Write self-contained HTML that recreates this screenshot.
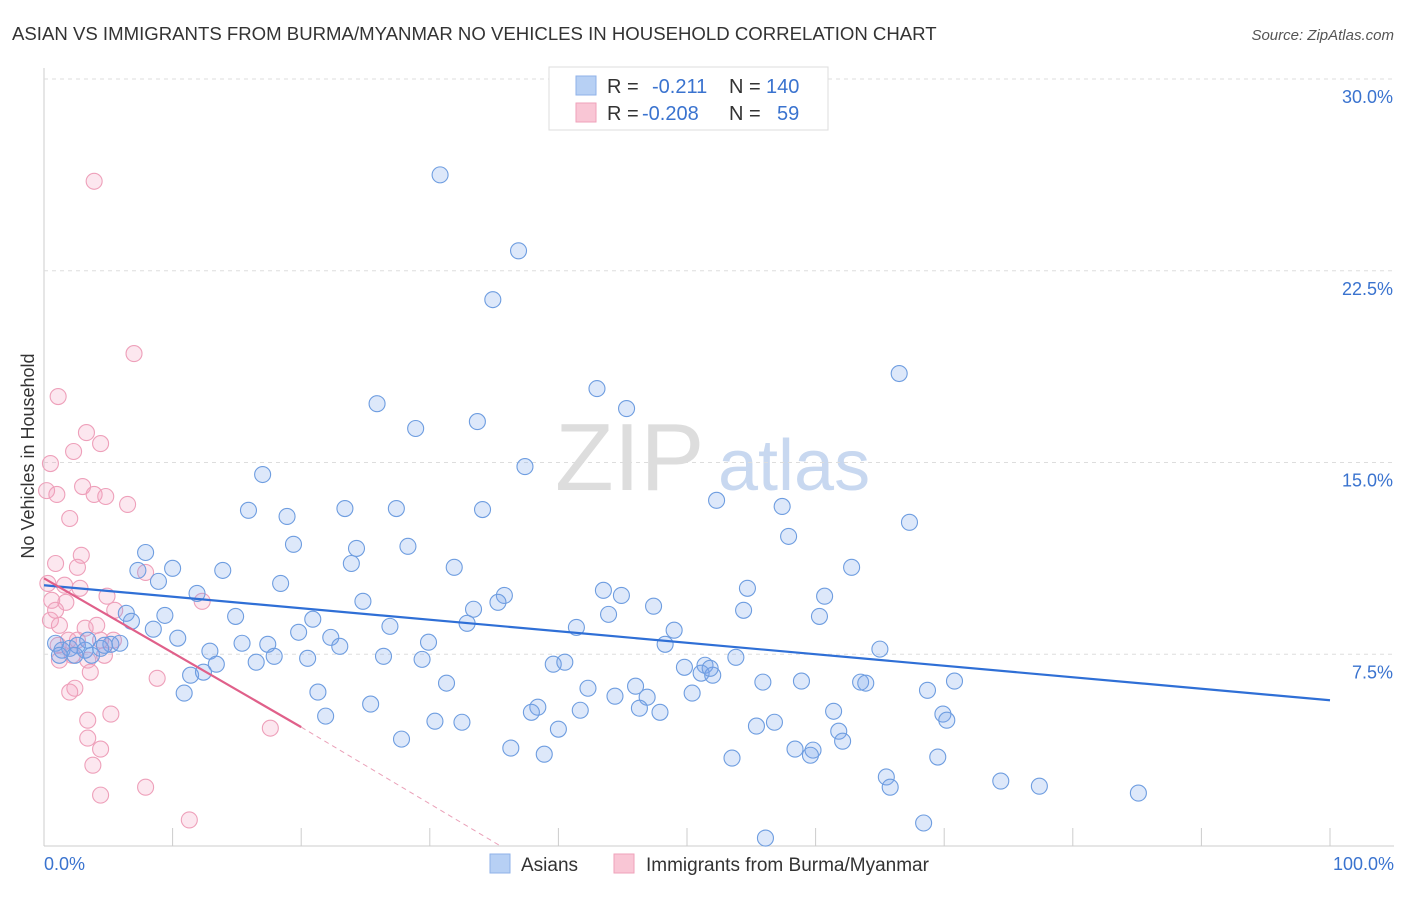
<!DOCTYPE html>
<html><head><meta charset="utf-8"><style>
body{margin:0;background:#fff;font-family:"Liberation Sans",sans-serif}
svg text{font-family:"Liberation Sans",sans-serif}
</style></head><body>
<svg id="chart" width="1406" height="892" xmlns="http://www.w3.org/2000/svg">
<text x="12" y="40" font-size="18.6" fill="#333">ASIAN VS IMMIGRANTS FROM BURMA/MYANMAR NO VEHICLES IN HOUSEHOLD CORRELATION CHART</text>
<text x="1394" y="40" font-size="15" fill="#555" font-style="italic" text-anchor="end">Source: ZipAtlas.com</text>
<text x="555" y="490" font-size="96" fill="#ddd" font-family="Liberation Serif">ZIP</text>
<text x="718" y="490" font-size="72" fill="#c8d8f0">atlas</text>
<text transform="translate(34,456) rotate(-90)" font-size="18" fill="#333" text-anchor="middle">No Vehicles in Household</text>
<g id="grid"></g><g id="ticks"></g><g id="pts"></g><g id="lines"></g>
<g>
<rect x="549" y="67" width="279" height="63" fill="#fff" stroke="#ddd"/>
<rect x="576" y="76" width="20" height="19" fill="#b7d0f4" stroke="#8fb2e8"/>
<rect x="576" y="103" width="20" height="19" fill="#f9c6d5" stroke="#efa2ba"/>
<text x="607" y="93" font-size="20" fill="#333">R = </text><text x="652" y="93" font-size="20" fill="#3a73cf">-0.211</text>
<text x="729" y="93" font-size="20" fill="#333">N = </text><text x="766" y="93" font-size="20" fill="#3a73cf">140</text>
<text x="607" y="120" font-size="20" fill="#333">R = </text><text x="642" y="120" font-size="20" fill="#3a73cf">-0.208</text>
<text x="729" y="120" font-size="20" fill="#333">N = </text><text x="777" y="120" font-size="20" fill="#3a73cf">59</text>
</g>
<g>
<rect x="490" y="854" width="20" height="19" fill="#b7d0f4" stroke="#8fb2e8"/>
<text x="521" y="871" font-size="19" fill="#333">Asians</text>
<rect x="614" y="854" width="20" height="19" fill="#f9c6d5" stroke="#efa2ba"/>
<text x="646" y="871" font-size="19" fill="#333">Immigrants from Burma/Myanmar</text>
</g>
</svg>
<script>
const yTicks=[7.5,15,22.5,30];
const yTickLabels=["7.5%","15.0%","22.5%","30.0%"];
const blueX=[30.8,36.9,34.9,66.5,43.0,25.9,45.3,33.7,28.9,37.4,17.0,52.3,15.9,23.4,27.4,34.1,57.4,67.3,18.9,57.9,19.4,28.3,24.3,7.9,23.9,31.9,62.8,7.3,10.0,13.9,8.9,18.4,54.7,43.5,44.9,35.8,60.7,11.9,24.8,33.4,35.3,47.4,54.4,43.9,60.3,6.4,9.4,14.9,20.9,6.8,26.9,32.9,41.4,8.5,19.8,49.0,22.3,10.4,15.4,17.4,29.9,23.0,48.3,65.0,5.2,5.9,12.9,17.9,26.4,20.5,29.4,53.8,16.5,13.4,39.6,40.5,49.8,51.4,51.1,52.0,51.8,11.4,12.4,31.3,42.3,46.0,55.9,58.9,63.5,63.9,70.8,21.3,68.7,10.9,50.4,44.4,46.9,38.4,25.4,37.9,46.3,41.7,47.9,61.4,69.9,70.2,21.9,30.4,32.5,56.8,55.4,61.8,40.0,62.1,27.8,36.3,38.9,58.4,59.8,59.6,69.5,53.5,65.5,65.8,74.4,77.4,85.1,68.4,56.1,0.9,1.4,2.0,2.6,3.2,3.7,4.4,4.7,1.2,2.4,3.4];
const blueY=[26.25,23.28,21.37,18.48,17.89,17.30,17.11,16.60,16.33,14.84,14.53,13.52,13.13,13.20,13.20,13.16,13.28,12.66,12.89,12.11,11.80,11.72,11.64,11.48,11.05,10.90,10.90,10.78,10.86,10.78,10.35,10.27,10.08,10.00,9.80,9.80,9.77,9.88,9.57,9.26,9.53,9.38,9.22,9.06,8.98,9.10,9.02,8.98,8.87,8.79,8.59,8.71,8.55,8.48,8.36,8.44,8.16,8.13,7.93,7.89,7.97,7.81,7.89,7.70,7.89,7.93,7.62,7.42,7.42,7.34,7.30,7.38,7.19,7.11,7.11,7.19,6.99,7.07,6.76,6.68,6.95,6.68,6.80,6.37,6.17,6.25,6.41,6.45,6.41,6.37,6.45,6.02,6.09,5.98,5.98,5.86,5.82,5.43,5.55,5.23,5.39,5.31,5.23,5.27,5.16,4.92,5.08,4.88,4.84,4.84,4.69,4.49,4.57,4.10,4.18,3.83,3.59,3.79,3.75,3.55,3.48,3.44,2.70,2.30,2.54,2.34,2.07,0.90,0.31,7.93,7.66,7.73,7.85,7.66,7.46,7.73,7.85,7.46,7.46,8.05];
const pinkX=[3.9,7.0,1.1,3.3,4.4,2.3,0.5,0.2,3.0,1.0,3.9,4.8,6.5,2.0,0.9,2.9,2.6,1.6,2.8,0.6,1.7,4.9,7.9,12.3,0.9,0.5,1.2,3.2,4.1,5.5,1.9,2.6,4.4,1.1,2.2,3.4,1.2,4.7,3.6,2.4,2.0,8.8,5.2,3.4,3.4,4.4,3.8,4.4,7.9,11.3,17.6,0.3,5.4];
const pinkY=[26.0,19.26,17.58,16.17,15.74,15.43,14.96,13.9,14.06,13.75,13.75,13.67,13.36,12.81,11.05,11.37,10.90,10.20,10.08,9.61,9.53,9.77,10.70,9.57,9.22,8.83,8.63,8.52,8.63,9.22,8.05,8.05,8.05,7.85,7.46,7.27,7.27,7.46,6.80,6.17,6.02,6.56,5.16,4.92,4.22,3.79,3.16,1.99,2.30,1.02,4.61,10.27,8.05];
const blueTrend=[[0,10.2],[100,5.7]];
const pinkTrend=[[0,10.47],[20,4.65]];
const pinkTrendExt=[[20,4.65],[35.5,0]];
const X0=44,X1=1330,Y0=846,YTOP=79;
const sx=v=>X0+(X1-X0)*v/100, sy=v=>Y0-(Y0-YTOP)*v/30;
const NS="http://www.w3.org/2000/svg";
function mk(t,a,p){const e=document.createElementNS(NS,t);for(const k in a)e.setAttribute(k,a[k]);document.getElementById(p).appendChild(e);return e;}
let ax=mk('line',{x1:X0,y1:68,x2:X0,y2:Y0,stroke:'#ccc'},'grid');


let bx=mk('line',{x1:X0,y1:Y0,x2:1394,y2:Y0,stroke:'#ccc'},'grid');


yTicks.forEach((t,i)=>{
 let g=mk('line',{x1:X0,y1:sy(t),x2:1394,y2:sy(t),stroke:'#ddd','stroke-dasharray':'4,4'},'grid');
 
 
 let l=mk('text',{x:1393,y:sy(t)+24,'font-size':18,fill:'#3a73cf','text-anchor':'end'},'ticks');
 l.textContent=yTickLabels[i];
 
 
});
for(let i=1;i<=10;i++){
 let t=mk('line',{x1:sx(i*10),y1:Y0,x2:sx(i*10),y2:Y0-18,stroke:'#ccc'},'ticks');
 
 
}
let xl=mk('text',{x:44,y:870,'font-size':18,fill:'#3a73cf'},'ticks');xl.textContent='0.0%';


let xr=mk('text',{x:1394,y:870,'font-size':18,fill:'#3a73cf','text-anchor':'end'},'ticks');xr.textContent='100.0%';


pinkX.forEach((x,i)=>{
 let c=mk('circle',{cx:sx(x),cy:sy(pinkY[i]),r:8,fill:'rgba(244,160,190,0.25)',stroke:'#eea0ba','stroke-width':1.1},'pts');
 
 
});
blueX.forEach((x,i)=>{
 let c=mk('circle',{cx:sx(x),cy:sy(blueY[i]),r:8,fill:'rgba(120,165,235,0.25)',stroke:'#6e9de0','stroke-width':1.1},'pts');
 
 
});
let b=mk('line',{x1:sx(blueTrend[0][0]),y1:sy(blueTrend[0][1]),x2:sx(blueTrend[1][0]),y2:sy(blueTrend[1][1]),stroke:'#2f6fd6','stroke-width':2.2},'lines');


let p=mk('line',{x1:sx(pinkTrend[0][0]),y1:sy(pinkTrend[0][1]),x2:sx(pinkTrend[1][0]),y2:sy(pinkTrend[1][1]),stroke:'#e0608a','stroke-width':2.2},'lines');


let pe=mk('line',{x1:sx(pinkTrendExt[0][0]),y1:sy(pinkTrendExt[0][1]),x2:sx(pinkTrendExt[1][0]),y2:sy(pinkTrendExt[1][1]),stroke:'#eaa0b8','stroke-width':1,'stroke-dasharray':'5,4'},'lines');


</script>
</body></html>
